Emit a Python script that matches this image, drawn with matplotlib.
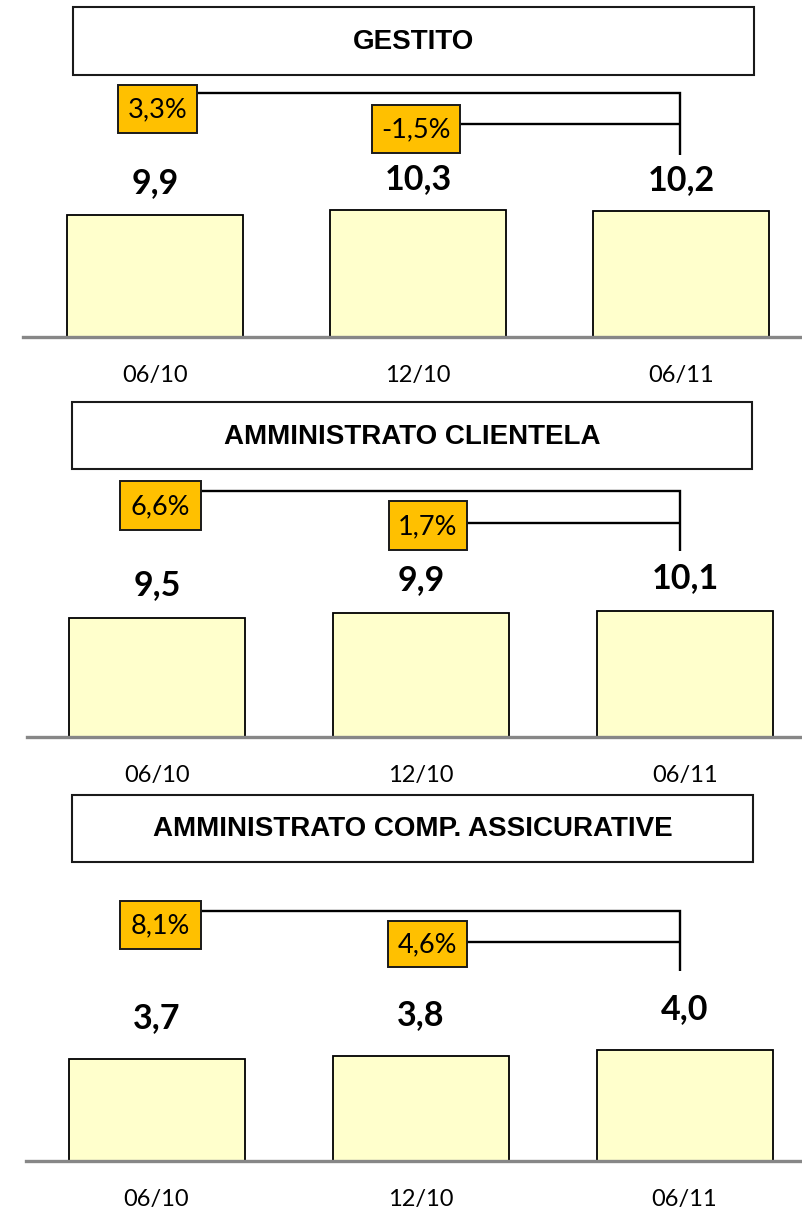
import matplotlib
matplotlib.use("Agg")
import matplotlib.pyplot as plt
from matplotlib.patches import Rectangle

# ---- data ----
categories = ["06/10", "12/10", "06/11"]
titles = ["GESTITO", "AMMINISTRATO CLIENTELA", "AMMINISTRATO COMP. ASSICURATIVE"]
gestito = [9.9, 10.3, 10.2]
amm_clientela = [9.5, 9.9, 10.1]
amm_assicurative = [3.7, 3.8, 4.0]
var_vs_0610 = [3.3, 6.6, 8.1]     # 06/11 vs 06/10
var_vs_1210 = [-1.5, 1.7, 4.6]    # 06/11 vs 12/10

series = [gestito, amm_clientela, amm_assicurative]

W, H, DPI = 803, 1212, 100
PX = 72 / DPI  # points per pixel

BAR_FILL = "#FFFFCC"
BOX_FILL = "#FFC000"
AXIS_GREY = "#878787"
NUM_FONT = "Lato"
TITLE_FONT = "Liberation Sans"


def it(v):
    return f"{v:.1f}".replace(".", ",")


# layout of each panel in pixels (origin top-left)
layout = [
    dict(tbox=(73, 7, 754, 75), base=337, left=23, c0=155, step=263, ppu=12.37, gap=21,
         box_a=(118, 85, 197, 133), ya=93, box_b=(372, 105, 460, 153), yb=124, vend=155),
    dict(tbox=(72, 402, 752, 469), base=737, left=27, c0=157, step=264, ppu=12.48, gap=23,
         box_a=(120, 481, 201, 530), ya=491, box_b=(389, 501, 467, 550), yb=523, vend=551),
    dict(tbox=(72, 795, 753, 862), base=1161, left=26, c0=156.5, step=264, ppu=27.65, gap=31,
         box_a=(120, 901, 201, 949), ya=911, box_b=(388, 921, 467, 967), yb=942, vend=971),
]
VX = 680

fig = plt.figure(figsize=(W / DPI, H / DPI), dpi=DPI)

# overlay in pixel coordinates for title boxes and variation brackets
ov = fig.add_axes([0, 0, 1, 1], zorder=5)
ov.set_xlim(0, W)
ov.set_ylim(H, 0)
ov.axis("off")
ov.patch.set_visible(False)

for k, (vals, lay) in enumerate(zip(series, layout)):
    top = lay["tbox"][3] + 5
    ax = fig.add_axes([lay["left"] / W, 1 - lay["base"] / H,
                       (W - lay["left"]) / W, (lay["base"] - top) / H])
    x = range(len(categories))
    ax.bar(x, vals, width=176 / lay["step"], color=BAR_FILL, edgecolor="black",
           linewidth=1.3, zorder=2)
    ax.set_xlim(-(lay["c0"] - lay["left"]) / lay["step"], (W - lay["c0"]) / lay["step"])
    ax.set_ylim(0, (lay["base"] - top) / lay["ppu"])
    for s in ["top", "left", "right"]:
        ax.spines[s].set_visible(False)
    ax.spines["bottom"].set_color(AXIS_GREY)
    ax.spines["bottom"].set_linewidth(2.4)
    ax.spines["bottom"].set_zorder(3)
    ax.set_yticks([])
    ax.set_xticks(list(x))
    ax.set_xticklabels(categories, fontsize=17, family=NUM_FONT)
    ax.tick_params(axis="x", length=0, pad=45 * PX)
    for lab in ax.get_xticklabels():
        lab.set_va("baseline")
    ax.patch.set_visible(False)
    for i, v in enumerate(vals):
        ax.annotate(it(v), (i, v), xytext=(0, lay["gap"] * PX), textcoords="offset points",
                    ha="center", va="baseline", fontsize=24.5, fontweight="bold",
                    family=NUM_FONT)

    # title box
    x0, y0, x1, y1 = lay["tbox"]
    ov.add_patch(Rectangle((x0, y0), x1 - x0, y1 - y0, facecolor="white",
                           edgecolor="#1a1a1a", linewidth=1.5))
    ov.text((x0 + x1) / 2, (y0 + y1) / 2 + 1, titles[k], ha="center", va="center",
            fontsize=20, fontweight="bold", family=TITLE_FONT)

    # brackets
    ov.plot([lay["box_a"][2], VX, VX], [lay["ya"], lay["ya"], lay["vend"]],
            color="black", lw=1.7, solid_capstyle="butt", solid_joinstyle="miter")
    ov.plot([lay["box_b"][2], VX], [lay["yb"], lay["yb"]], color="black", lw=1.7,
            solid_capstyle="butt")
    for box, val in [(lay["box_a"], var_vs_0610[k]), (lay["box_b"], var_vs_1210[k])]:
        bx0, by0, bx1, by1 = box
        ov.add_patch(Rectangle((bx0, by0), bx1 - bx0, by1 - by0, facecolor=BOX_FILL,
                               edgecolor="#1a1a1a", linewidth=1.4, zorder=3))
        ov.text((bx0 + bx1) / 2, (by0 + by1) / 2 + 1, it(val) + "%", ha="center",
                va="center", fontsize=19.5, family=NUM_FONT, zorder=4)

fig.savefig("out.png", dpi=DPI)
